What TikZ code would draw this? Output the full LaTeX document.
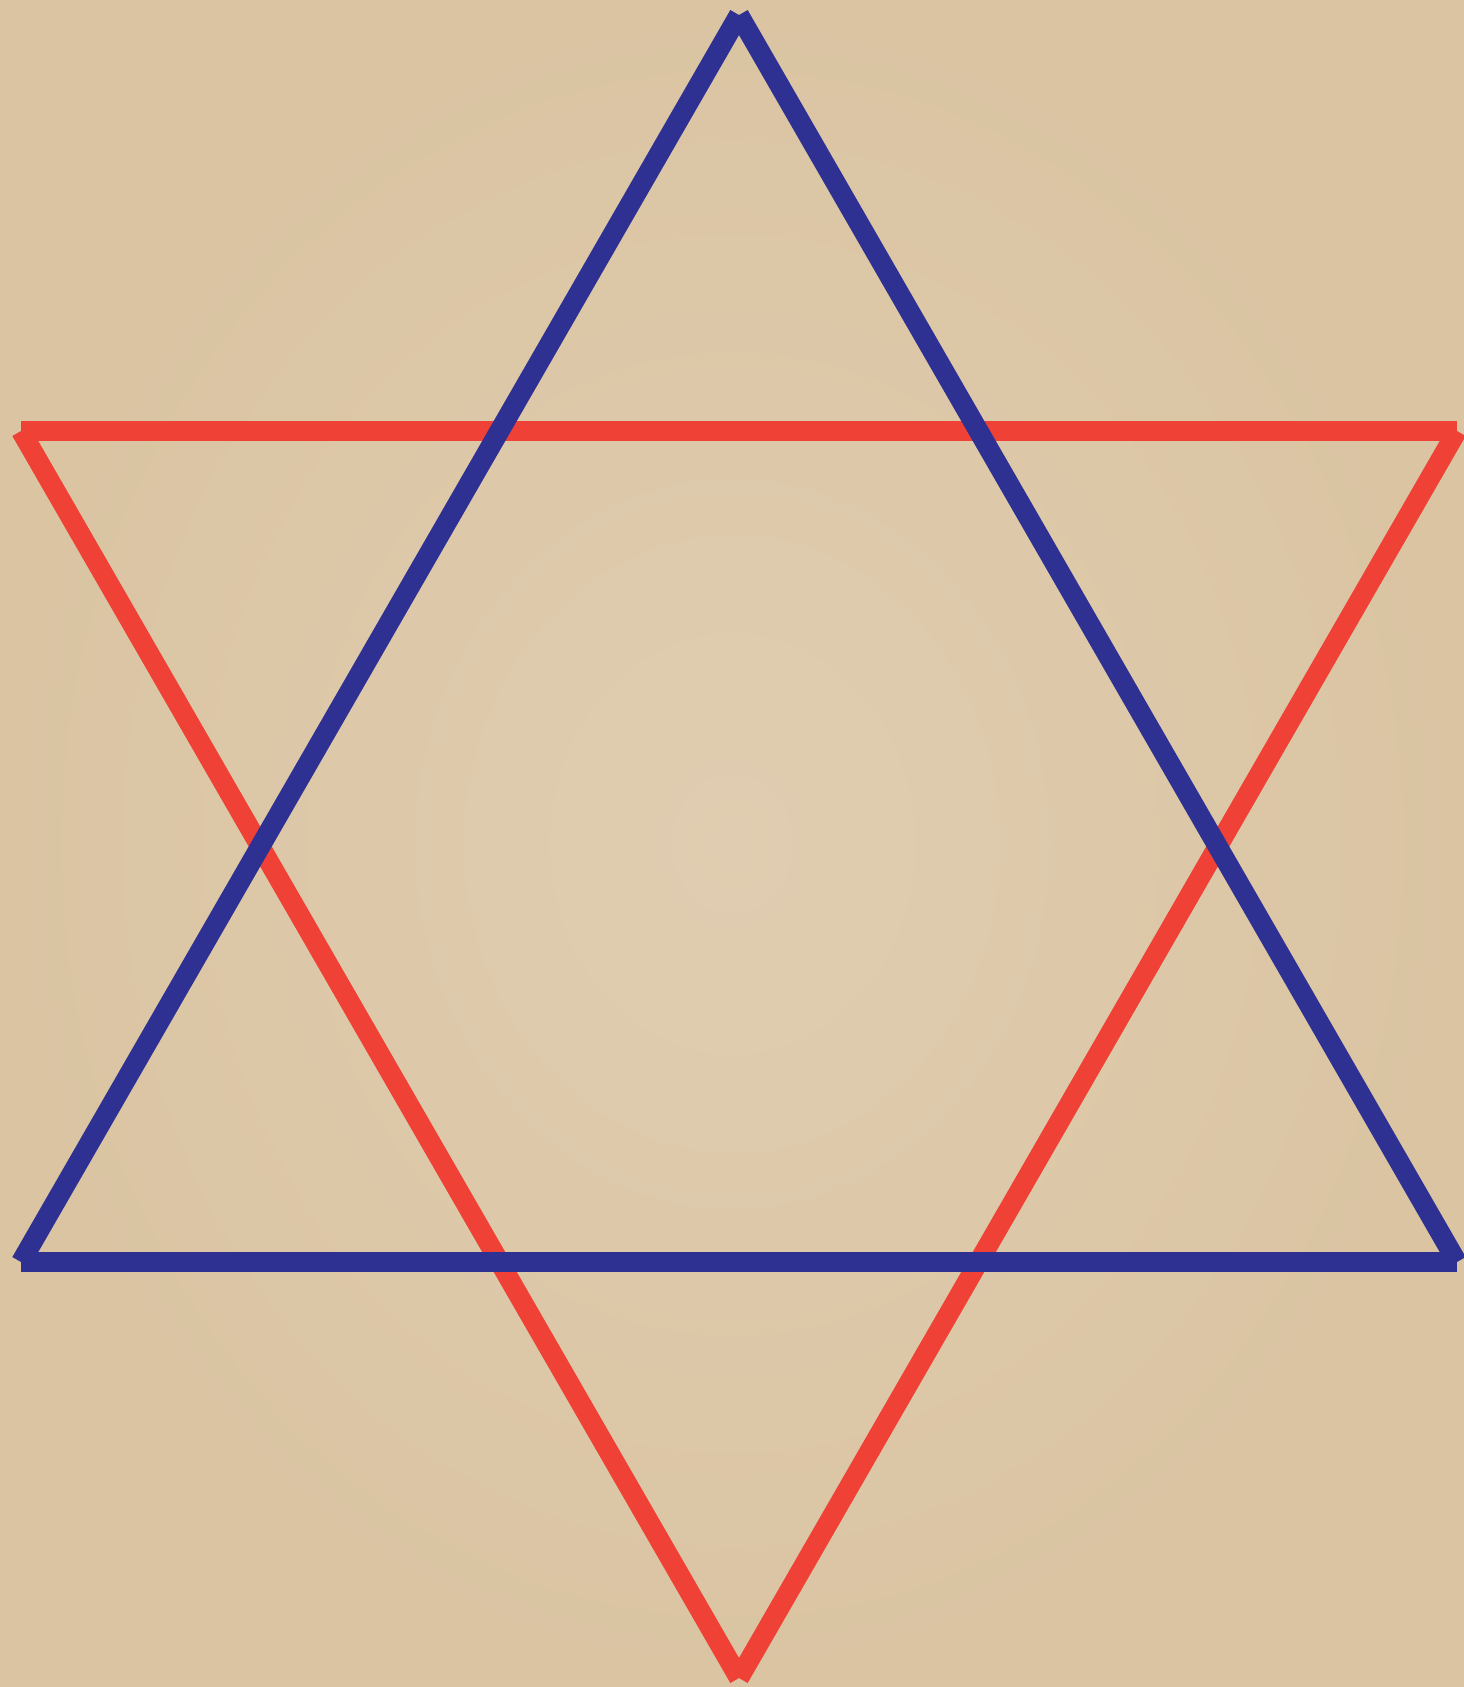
\documentclass[tikz,border=0pt]{standalone}
\usetikzlibrary{shadings}
\definecolor{starblue}{HTML}{2E3192}
\definecolor{starred}{HTML}{EF4136}
\definecolor{paperin}{HTML}{E0CDB1}
\definecolor{paperout}{HTML}{DAC4A2}
\tikzset{
  edgeline/.style={line width=20pt, line cap=butt},
  blueedge/.style={edgeline, draw=starblue},
  rededge/.style={edgeline, draw=starred}
}
\begin{document}
\begin{tikzpicture}[x=1pt,y=-1pt]
  \useasboundingbox (0,0) rectangle (1464,1687);
  \shade[inner color=paperin, outer color=paperout] (0,0) rectangle (1464,1687);
  % red triangle (pointing down)
  \coordinate (R1) at (21,431);
  \coordinate (R2) at (1457,431);
  \coordinate (R3) at (739,1678);
  % blue triangle (pointing up)
  \coordinate (B1) at (739,15);
  \coordinate (B2) at (21,1262);
  \coordinate (B3) at (1457,1262);
  \draw[rededge] (R1) -- (R2);
  \draw[rededge] (R2) -- (R3);
  \draw[rededge] (R3) -- (R1);
  \draw[blueedge] (B1) -- (B2);
  \draw[blueedge] (B2) -- (B3);
  \draw[blueedge] (B3) -- (B1);
\end{tikzpicture}
\end{document}
